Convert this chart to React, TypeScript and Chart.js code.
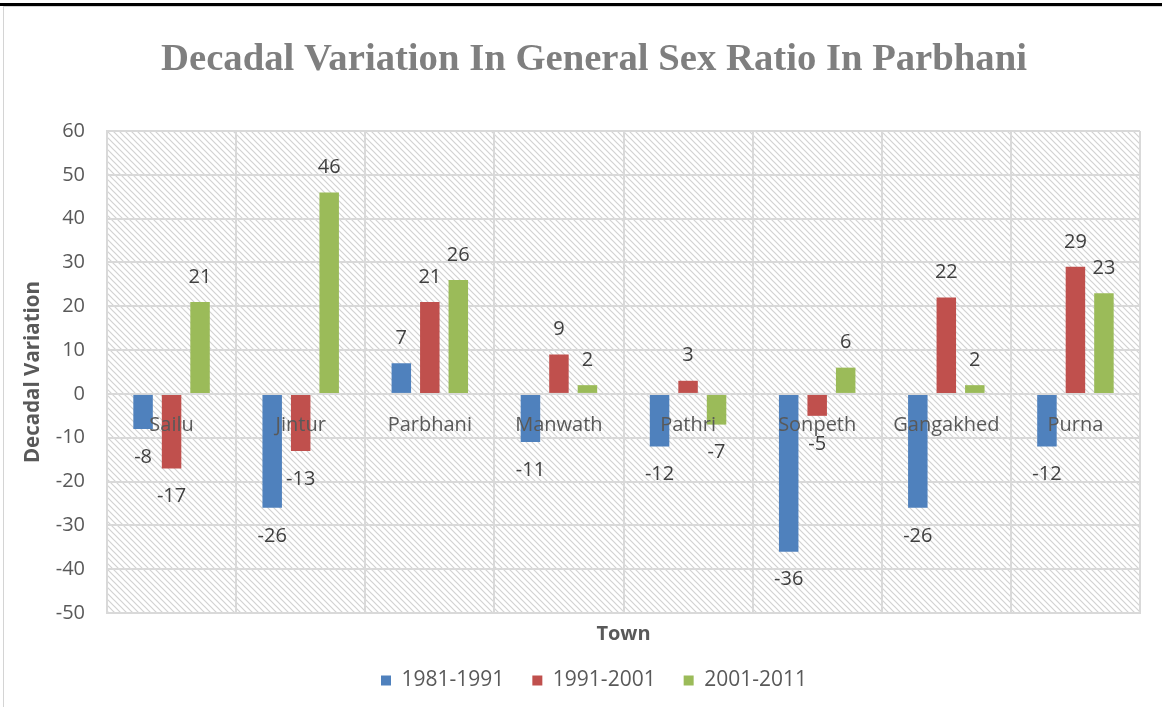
import React, { useEffect, useRef } from "react";
import { Chart, registerables } from "chart.js";

Chart.register(...registerables);

const towns = ["Sailu", "Jintur", "Parbhani", "Manwath", "Pathri", "Sonpeth", "Gangakhed", "Purna"];
const series1981_1991 = [-8, -26, 7, -11, -12, -36, -26, -12];
const series1991_2001 = [-17, -13, 21, 9, 3, -5, 22, 29];
const series2001_2011 = [21, 46, 26, 2, -7, 6, 2, 23];
const seriesNames = ["1981-1991", "1991-2001", "2001-2011"];
const seriesColors = ["#4f81bd", "#c0504d", "#9bbb59"];
const yMin = -50;
const yMax = 60;
const yStep = 10;

const titleText = "Decadal Variation In General Sex Ratio In Parbhani";
const yTitle = "Decadal Variation";
const xTitle = "Town";

const SANS = "'Open Sans', 'Noto Sans', sans-serif";

function makeHatch(): CanvasPattern | string {
  const s = 6;
  const c = document.createElement("canvas");
  c.width = s;
  c.height = s;
  const g = c.getContext("2d");
  if (!g) return "#ffffff";
  g.fillStyle = "#ffffff";
  g.fillRect(0, 0, s, s);
  g.strokeStyle = "#d2d2d2";
  g.lineWidth = 1.2;
  g.beginPath();
  g.moveTo(-1, -1);
  g.lineTo(s + 1, s + 1);
  g.moveTo(-1, s - 1);
  g.lineTo(1, s + 1);
  g.moveTo(s - 1, -1);
  g.lineTo(s + 1, 1);
  g.stroke();
  const p = g.createPattern(c, "repeat");
  return p || "#ffffff";
}

const hatchPlugin = {
  id: "hatchBg",
  beforeDraw(chart: any) {
    const { ctx, chartArea } = chart;
    ctx.save();
    ctx.fillStyle = makeHatch();
    ctx.fillRect(chartArea.left, chartArea.top, chartArea.right - chartArea.left, chartArea.bottom - chartArea.top);
    ctx.restore();
  },
};

const labelsPlugin = {
  id: "valueAndCategoryLabels",
  afterDatasetsDraw(chart: any) {
    const { ctx } = chart;
    const xScale = chart.scales.x;
    const yScale = chart.scales.y;
    ctx.save();
    ctx.textAlign = "center";
    ctx.textBaseline = "middle";
    ctx.font = `20px ${SANS}`;
    ctx.fillStyle = "#404040";
    chart.data.datasets.forEach((ds: any, di: number) => {
      const meta = chart.getDatasetMeta(di);
      meta.data.forEach((bar: any, i: number) => {
        const v = ds.data[i];
        const y = v >= 0 ? bar.y - 25 : bar.y + 28;
        ctx.fillText(String(v), bar.x, y);
      });
    });
    ctx.fillStyle = "#595959";
    const zeroY = yScale.getPixelForValue(0);
    towns.forEach((t, i) => {
      ctx.fillText(t, xScale.getPixelForValue(i), zeroY + 31);
    });
    ctx.restore();
  },
};

export default function App() {
  const ref = useRef<HTMLCanvasElement | null>(null);

  useEffect(() => {
    document.body.style.margin = "0";
    const canvas = ref.current;
    if (!canvas) return;
    const chart = new Chart(canvas, {
      type: "bar",
      data: {
        labels: towns,
        datasets: [series1981_1991, series1991_2001, series2001_2011].map((d, i) => ({
          label: seriesNames[i],
          data: d,
          backgroundColor: seriesColors[i],
          borderWidth: 0,
          categoryPercentage: 0.662,
          barPercentage: 0.684,
        })),
      },
      options: {
        responsive: false,
        animation: false,
        devicePixelRatio: 1,
        layout: { padding: { left: 48, right: 48, top: 0, bottom: 0 } },
        plugins: {
          title: {
            display: true,
            text: titleText,
            color: "#7f7f7f",
            font: { family: "'Liberation Serif', serif", size: 38.7, weight: "bold", lineHeight: 1.2 },
            padding: { top: 36.8, bottom: 47.8 },
          },
          legend: {
            display: true,
            position: "bottom",
            labels: {
              color: "#595959",
              font: { family: SANS, size: 21 },
              boxWidth: 10,
              boxHeight: 10,
              padding: 28,
            },
          },
          tooltip: { enabled: false },
        },
        scales: {
          x: {
            type: "category",
            grid: { color: "#d9d9d9", lineWidth: 2, drawTicks: false, offset: true },
            border: { display: true, color: "#d9d9d9", width: 2 },
            ticks: { display: false },
            title: {
              display: true,
              text: xTitle,
              color: "#595959",
              font: { family: SANS, size: 20, weight: "bold", lineHeight: 1.2 },
              padding: { top: 0, bottom: -4 },
            },
            afterFit: (scale: any) => {
              scale.height = 29;
            },
          },
          y: {
            min: yMin,
            max: yMax,
            grid: { color: "#d9d9d9", lineWidth: 2, drawTicks: false },
            border: { display: true, color: "#d9d9d9", width: 2 },
            ticks: {
              stepSize: yStep,
              color: "#595959",
              font: { family: SANS, size: 20 },
              padding: 22,
            },
            title: {
              display: true,
              text: yTitle,
              color: "#595959",
              font: { family: SANS, size: 20.5, weight: "bold", lineHeight: 1.2 },
              padding: { top: -27.3, bottom: 0 },
            },
            afterFit: (scale: any) => {
              scale.width = 59;
            },
          },
        },
      },
      plugins: [hatchPlugin, labelsPlugin],
    });
    return () => chart.destroy();
  }, []);

  return (
    <div style={{ position: "fixed", left: 0, top: 0, width: 1162, height: 707, overflow: "hidden", background: "#ffffff" }}>
      <div style={{ position: "absolute", left: 0, top: 3, width: 1162, height: 3, background: "#000000" }} />
      <div style={{ position: "absolute", left: 3, top: 6, width: 1159, height: 1, background: "#d4d4d4" }} />
      <div style={{ position: "absolute", left: 3, top: 6, width: 1, height: 701, background: "#d4d4d4" }} />
      <canvas ref={ref} width={1188} height={701} style={{ position: "absolute", left: 0, top: 0, width: 1188, height: 701 }} />
    </div>
  );
}
